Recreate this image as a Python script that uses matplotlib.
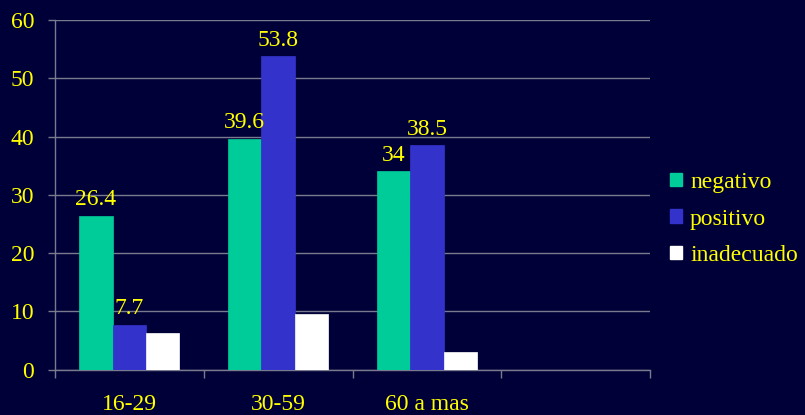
import matplotlib
matplotlib.use("Agg")
import matplotlib.pyplot as plt
import numpy as np
from matplotlib.patches import Patch

categories = ["16-29", "30-59", "60 a mas", ""]
series_names = ["negativo", "positivo", "inadecuado"]
negativo = [26.4, 39.6, 34, None]
positivo = [7.7, 53.8, 38.5, None]
inadecuado = [6.3, 9.6, 3.0, None]
label_series = [True, True, False]

colors = ["#00CC99", "#3333CC", "#FFFFFF"]
bg = "#000038"
yellow = "#FFFF00"
grid_c = "#7A7A8E"
fs = 17

plt.rcParams["font.family"] = ["Liberation Serif", "DejaVu Serif"]

fig = plt.figure(figsize=(8.05, 4.15), dpi=100, facecolor=bg)
ax = fig.add_axes([55/805, 1-369.5/415, 595/805, 349.5/415])
ax.set_facecolor(bg)

x = np.arange(len(categories))
w = 0.224
data = [negativo, positivo, inadecuado]
for i, (vals, name) in enumerate(zip(data, series_names)):
    xs = [xi + (i-1)*w for xi, v in zip(x, vals) if v is not None]
    vs = [v for v in vals if v is not None]
    ax.bar(xs, vs, width=w, color=colors[i], edgecolor=colors[i], linewidth=0.5, zorder=3, label=name)
    if label_series[i]:
        for xx, vv in zip(xs, vs):
            ax.annotate(f"{vv:g}", (xx, vv), xytext=(0, 4), textcoords="offset points",
                        ha="center", va="bottom", color=yellow, fontsize=fs, zorder=4)

ax.set_xlim(-0.5, 3.5)
ax.set_ylim(0, 60)
ax.set_yticks(range(0, 61, 10))
ax.yaxis.grid(True, color=grid_c, linewidth=1.0, zorder=0)
ax.set_axisbelow(True)

ax.set_xticks(x)
ax.set_xticklabels(categories)
ax.set_xticks(np.arange(-0.5, 3.6, 1.0), minor=True)
ax.tick_params(axis="x", which="major", length=0, pad=18, labelsize=fs, labelcolor=yellow)
ax.tick_params(axis="x", which="minor", length=6, width=1, color=grid_c, direction="out")
ax.tick_params(axis="y", length=5, width=1, color=grid_c, pad=10, labelsize=fs, labelcolor=yellow)

for s in ["top", "right"]:
    ax.spines[s].set_visible(False)
for s in ["left", "bottom"]:
    ax.spines[s].set_color(grid_c)
    ax.spines[s].set_linewidth(1)

handles = [Patch(facecolor=c, edgecolor=c) for c in colors]
leg = fig.legend(handles, series_names, loc="center left", bbox_to_anchor=(670/805, 1-219/415),
                 frameon=False, fontsize=fs, handlelength=0.5, handleheight=0.5,
                 handletextpad=0.35, labelspacing=0.66, borderaxespad=0, borderpad=0)
for t in leg.get_texts():
    t.set_color(yellow)

fig.savefig("out.png", dpi=100, facecolor=bg)
